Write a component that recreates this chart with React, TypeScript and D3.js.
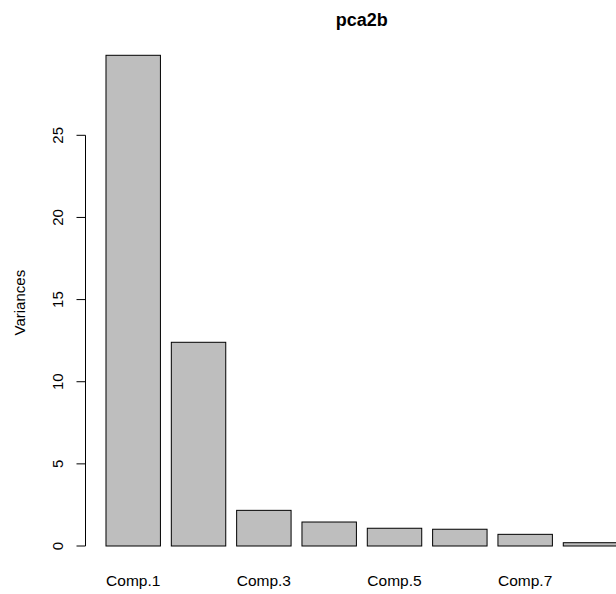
import React, { useEffect, useRef } from "react"
import * as d3 from "d3"

// PCA component variances (pca2b screeplot)
const components = [ "Comp.1", "Comp.2", "Comp.3", "Comp.4", "Comp.5", "Comp.6", "Comp.7", "Comp.8" ]
const variances = [ 29.87, 12.4, 2.17, 1.46, 1.08, 1.02, 0.71, 0.2 ]
const yTicks = [ 0, 5, 10, 15, 20, 25 ]
const shownLabels = [ "Comp.1", "Comp.3", "Comp.5", "Comp.7" ]

const W = 616
const H = 594

export default function App() {
  const ref = useRef<SVGSVGElement>( null )

  useEffect( () => {
    const svg = d3.select( ref.current )
    svg.selectAll( "*" ).remove()

    const font = "'Liberation Sans', Arial, Helvetica, sans-serif"

    // R barplot: width 1, space 0.2
    const xScale = d3
      .scaleBand()
      .domain( components )
      .range( [ 95.1, 628.6 ] )
      .paddingInner( 1 / 6 )
      .paddingOuter( 1 / 6 )

    const yScale = d3
      .scaleLinear()
      .domain( [ 0, 25 ] )
      .range( [ 546, 135.3 ] )

    svg
      .selectAll( "rect.bar" )
      .data( variances )
      .enter()
      .append( "rect" )
      .attr( "class", "bar" )
      .attr( "x", ( d, i ) => xScale( components[ i ] ) )
      .attr( "y", d => yScale( d ) )
      .attr( "width", xScale.bandwidth() )
      .attr( "height", d => yScale( 0 ) - yScale( d ) )
      .attr( "fill", "#bebebe" )
      .attr( "stroke", "#000" )
      .attr( "stroke-width", 1 )

    // y axis, R style
    const axisX = 85.5
    const axis = svg.append( "g" ).attr( "stroke", "#000" ).attr( "stroke-width", 1 )
    axis
      .append( "line" )
      .attr( "x1", axisX )
      .attr( "x2", axisX )
      .attr( "y1", yScale( yTicks[ 0 ] ) )
      .attr( "y2", yScale( yTicks[ yTicks.length - 1 ] ) )
    axis
      .selectAll( "line.tick" )
      .data( yTicks )
      .enter()
      .append( "line" )
      .attr( "class", "tick" )
      .attr( "x1", axisX - 9 )
      .attr( "x2", axisX )
      .attr( "y1", d => yScale( d ) )
      .attr( "y2", d => yScale( d ) )

    svg
      .selectAll( "text.ytick" )
      .data( yTicks )
      .enter()
      .append( "text" )
      .attr( "class", "ytick" )
      .attr( "transform", d => `translate(63,${ yScale( d ) }) rotate(-90)` )
      .attr( "text-anchor", "middle" )
      .attr( "font-family", font )
      .attr( "font-size", 15 )
      .text( d => d )

    // category labels (R drops overlapping ones)
    svg
      .selectAll( "text.xlab" )
      .data( shownLabels )
      .enter()
      .append( "text" )
      .attr( "class", "xlab" )
      .attr( "x", d => xScale( d ) + xScale.bandwidth() / 2 )
      .attr( "y", 586 )
      .attr( "text-anchor", "middle" )
      .attr( "font-family", font )
      .attr( "font-size", 15.5 )
      .text( d => d )

    const midY = yScale( d3.max( variances ) / 2 ) + 2
    svg
      .append( "text" )
      .attr( "transform", `translate(25,${ midY }) rotate(-90)` )
      .attr( "text-anchor", "middle" )
      .attr( "font-family", font )
      .attr( "font-size", 15 )
      .text( "Variances" )

    svg
      .append( "text" )
      .attr( "x", 361.8 )
      .attr( "y", 26 )
      .attr( "text-anchor", "middle" )
      .attr( "font-family", font )
      .attr( "font-size", 18 )
      .attr( "font-weight", "bold" )
      .text( "pca2b" )
  }, [] )

  return (
    <svg
      ref={ ref }
      width={ W }
      height={ H }
      style={ { position: "absolute", left: 0, top: 0, background: "#fff" } }
    />
  )
}
